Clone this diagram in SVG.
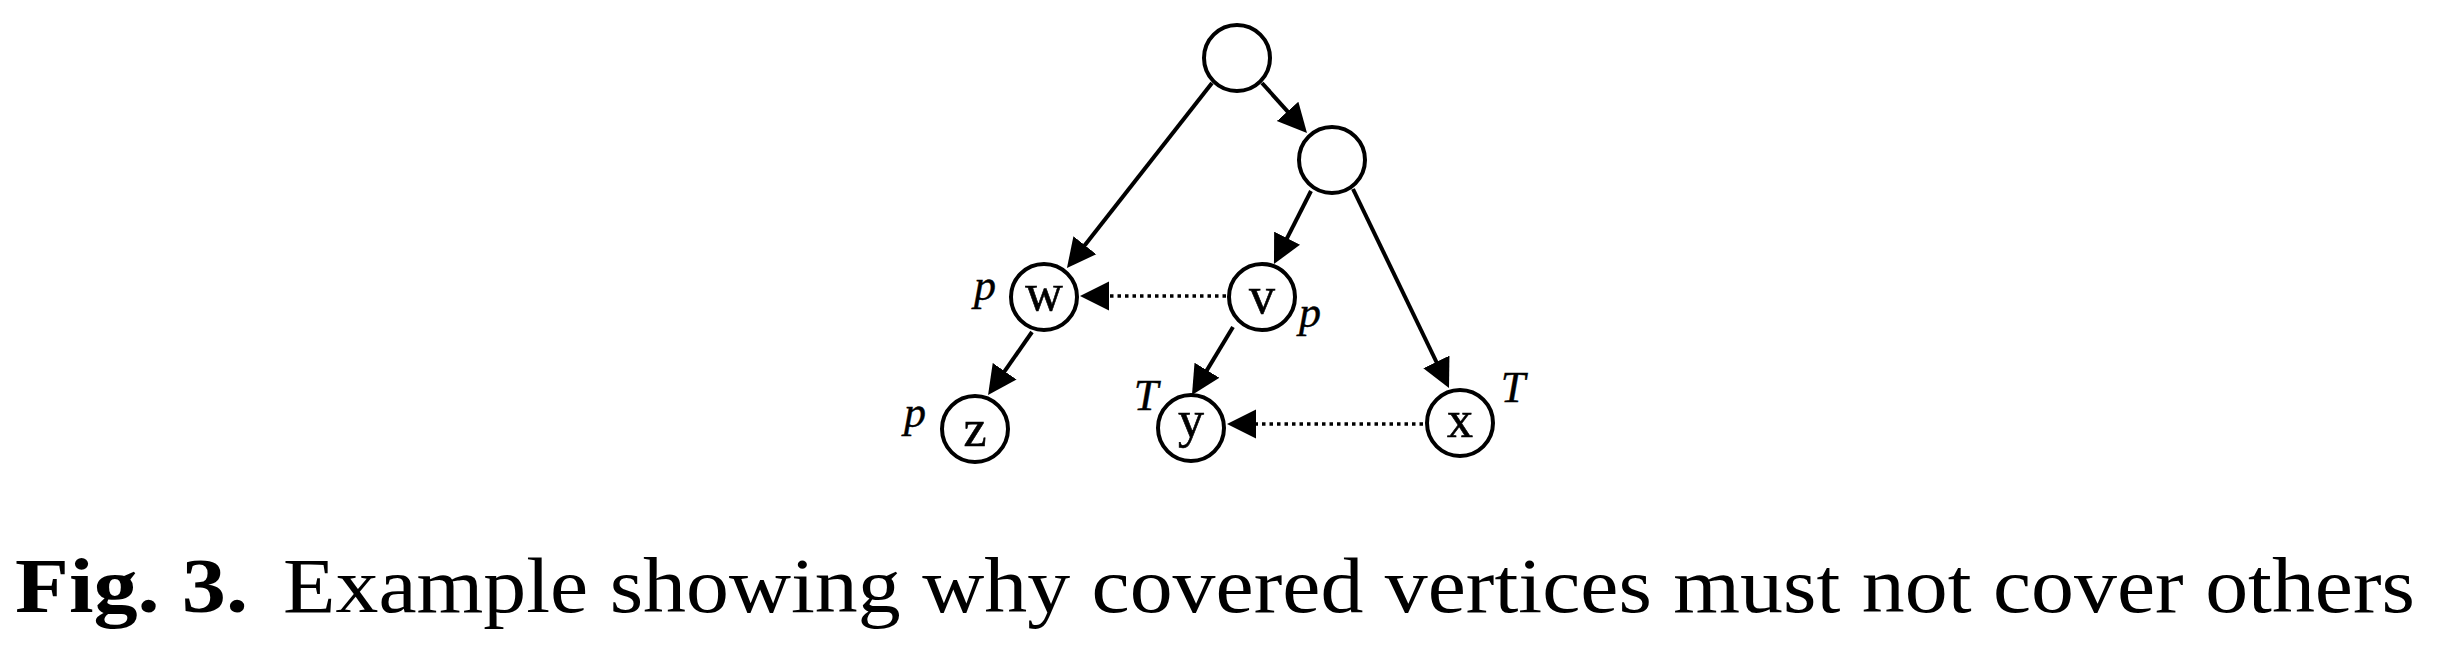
<svg xmlns="http://www.w3.org/2000/svg" width="2444" height="646" viewBox="0 0 2444 646">
<style>
.node{fill:#fff;stroke:#000;stroke-width:4}
.lbl{font-family:"Liberation Serif",serif;font-size:52px;text-anchor:middle;fill:#000;stroke:#000;stroke-width:0.6}
.tag{font-family:"Liberation Serif",serif;font-size:44px;font-style:italic;text-anchor:middle;fill:#000;stroke:#000;stroke-width:0.4}
.edge{stroke:#000;stroke-width:4;fill:none}
.dot{stroke:#000;stroke-width:3.5;fill:none;stroke-dasharray:3.5 4}
.cap{font-family:"Liberation Serif",serif;font-size:78px;fill:#000}
</style>
<defs>
<marker id="arr" markerUnits="userSpaceOnUse" markerWidth="30" markerHeight="30" refX="9" refY="14.5" orient="auto" viewBox="0 0 30 29">
<path d="M0,0 L29,14.5 L0,29 z" fill="#000"/>
</marker>
</defs>
<g id="connectors">
<line class="edge" x1="1262" y1="83" x2="1293.6" y2="118.1" marker-end="url(#arr)"/>
<line class="edge" x1="1212" y1="83" x2="1079.3" y2="252.3" marker-end="url(#arr)"/>
<line class="edge" x1="1311" y1="191" x2="1283" y2="246.2" marker-end="url(#arr)"/>
<line class="edge" x1="1353" y1="189" x2="1440.3" y2="370" marker-end="url(#arr)"/>
<line class="edge" x1="1032" y1="332" x2="999.5" y2="378.6" marker-end="url(#arr)"/>
<line class="edge" x1="1233" y1="327" x2="1202.3" y2="377.9" marker-end="url(#arr)"/>
<line class="dot" x1="1226" y1="296" x2="1100" y2="296" marker-end="url(#arr)"/>
<line class="dot" x1="1423" y1="424" x2="1247" y2="424" marker-end="url(#arr)"/>
</g>
<g id="root"><circle class="node" cx="1237" cy="58" r="33"/></g>
<g id="mid"><circle class="node" cx="1332" cy="160" r="33"/></g>
<g id="w"><circle class="node" cx="1044" cy="297" r="33"/><text class="lbl" x="1044" y="310">w</text><text class="tag" x="985" y="300">p</text></g>
<g id="v"><circle class="node" cx="1262" cy="297" r="33"/><text class="lbl" x="1262" y="313">v</text><text class="tag" x="1310" y="327">p</text></g>
<g id="z"><circle class="node" cx="975" cy="429" r="33"/><text class="lbl" x="975" y="446">z</text><text class="tag" x="915" y="427">p</text></g>
<g id="y"><circle class="node" cx="1191" cy="428" r="33"/><text class="lbl" x="1191" y="437">y</text><text class="tag" x="1146" y="410">T</text></g>
<g id="x"><circle class="node" cx="1460" cy="423" r="33"/><text class="lbl" x="1460" y="437">x</text><text class="tag" x="1513" y="402">T</text></g>
<g id="caption">
<text class="cap" x="15" y="612" font-weight="bold" textLength="233" lengthAdjust="spacingAndGlyphs">Fig. 3.</text>
<text class="cap" x="283" y="612" textLength="2132" lengthAdjust="spacingAndGlyphs">Example showing why covered vertices must not cover others</text>
</g>
</svg>
